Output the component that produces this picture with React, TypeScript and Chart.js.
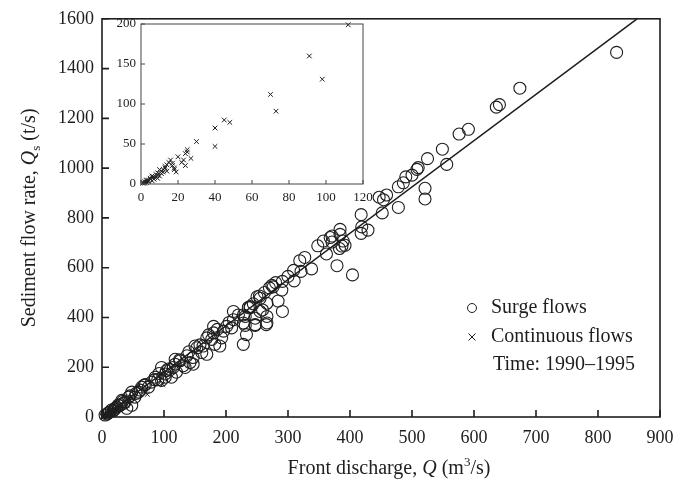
import React, { useEffect, useRef } from 'react';
import { Chart, registerables } from 'chart.js';

Chart.register(...registerables);

// ---- Data ----
const surgeQ = [
  5, 10, 15, 21, 26, 32, 37, 40, 43, 48, 48, 53, 59, 64, 75, 80, 86, 96, 102, 107, 118, 126, 134, 147, 150,
  96, 102, 104, 112, 115, 118, 120, 131, 137, 142, 147, 153, 161, 163, 169, 169, 177, 180, 180, 182, 190, 193, 196,
  201, 209, 212, 212, 228, 228, 231, 233, 239, 247, 255, 266, 266, 228, 231, 247, 247, 259, 265, 266, 239, 250, 254,
  255, 270, 276, 274, 290, 291, 284, 291, 309, 310, 321, 319, 327, 338, 348, 357, 362, 368, 371, 371, 379, 383, 384,
  384, 387, 389, 392, 404, 418, 419, 429, 418, 447, 452, 454, 459, 478, 478, 486, 490, 500, 508, 510, 521, 521, 525,
  549, 556, 576, 591, 636, 641, 674, 830, 20, 28, 35, 55, 70, 90, 110, 12, 8, 30,
  18, 24, 33, 45, 62, 68, 85, 92, 125, 140, 158, 172, 186, 205, 220, 236, 244, 262, 280, 300
];
const surgeQs = [
  8, 16, 28, 35, 48, 67, 60, 35, 80, 100, 47, 80, 100, 120, 120, 140, 160, 147, 173, 193, 212, 226, 199, 212, 285,
  199, 160, 186, 160, 199, 232, 180, 206, 246, 219, 239, 278, 259, 285, 318, 252, 312, 364, 338, 292, 285, 318, 345,
  364, 358, 424, 391, 292, 378, 404, 331, 444, 371, 424, 378, 457, 410, 368, 397, 368, 430, 371, 404, 440, 483, 486,
  477, 519, 523, 529, 510, 545, 466, 424, 589, 547, 585, 628, 641, 595, 688, 707, 655, 721, 727, 703, 608, 677, 754,
  734, 687, 707, 690, 571, 813, 764, 751, 738, 883, 820, 873, 892, 925, 842, 941, 965, 972, 995, 1002, 919, 876, 1038,
  1076, 1015, 1137, 1156, 1245, 1255, 1321, 1465, 30, 45, 55, 95, 130, 150, 190, 20, 12, 50,
  25, 40, 62, 85, 108, 128, 150, 175, 230, 262, 290, 330, 352, 380, 410, 440, 455, 500, 540, 565
];

const contQ = [
  112, 91, 98, 70, 73, 45, 48, 40, 40, 30, 25, 24, 20, 27, 23, 24, 19, 17, 15, 16, 14, 18, 12, 10, 11, 9, 9, 8, 7,
  6, 5, 6, 4, 3, 2, 3, 1, 1, 2, 4, 5, 7, 8, 10, 12, 13, 14, 17, 18, 22, 25, 11, 13, 6, 9, 3
];
const contQs = [
  199, 160, 131, 112, 91, 80, 77, 70, 47, 53, 43, 38, 34, 32, 30, 23, 15, 23, 27, 30, 24, 18, 18, 18, 13, 14, 11, 9, 9,
  8, 6, 4, 5, 4, 3, 2, 2, 1, 1, 3, 7, 6, 12, 10, 15, 20, 16, 26, 20, 27, 40, 16, 22, 10, 7, 5
];

const fitQ = [3, 863];
const fitQs = [0, 1600];

const mainXTicks = [0, 100, 200, 300, 400, 500, 600, 700, 800, 900];
const mainYTicks = [0, 200, 400, 600, 800, 1000, 1200, 1400, 1600];
const insetXTicks = [0, 20, 40, 60, 80, 100, 120];
const insetYTicks = [0, 50, 100, 150, 200];

const legendLabels = ['Surge flows', 'Continuous flows', 'Time: 1990\u20131995'];

// ---- Helpers ----
const INK = '#1e1e1e';
const SERIF = '"Liberation Serif", "Times New Roman", serif';

const toPts = (xs: number[], ys: number[]) => xs.map((x, i) => ({ x, y: ys[i] }));
const plainLabel = (v: any) => String(v);

type Part = { text: string; italic?: boolean; script?: 'sub' | 'sup' };

function drawRich(ctx: CanvasRenderingContext2D, parts: Part[], cx: number, y: number, size: number) {
  const fontFor = (p: Part) => `${p.italic ? 'italic ' : ''}${p.script ? Math.round(size * 0.65) : size}px ${SERIF}`;
  let total = 0;
  const widths = parts.map((p) => {
    ctx.font = fontFor(p);
    const w = ctx.measureText(p.text).width;
    total += w;
    return w;
  });
  let x = cx - total / 2;
  ctx.textBaseline = 'alphabetic';
  ctx.textAlign = 'left';
  parts.forEach((p, i) => {
    ctx.font = fontFor(p);
    const dy = p.script === 'sub' ? 5 : p.script === 'sup' ? -8 : 0;
    ctx.fillText(p.text, x, y + dy);
    x += widths[i];
  });
}

function framePlugin(id: string, tickLen: number, lineW: number, color: string) {
  return {
    id,
    afterDraw(chart: any) {
      const { ctx, chartArea: a, scales } = chart;
      ctx.save();
      ctx.strokeStyle = color;
      ctx.lineWidth = lineW;
      ctx.strokeRect(a.left, a.top, a.right - a.left, a.bottom - a.top);
      ctx.beginPath();
      scales.x.ticks.forEach((t: any) => {
        const px = scales.x.getPixelForValue(t.value);
        ctx.moveTo(px, a.bottom);
        ctx.lineTo(px, a.bottom - tickLen);
      });
      scales.y.ticks.forEach((t: any) => {
        const py = scales.y.getPixelForValue(t.value);
        ctx.moveTo(a.left, py);
        ctx.lineTo(a.left + tickLen, py);
      });
      ctx.stroke();
      ctx.restore();
    },
  };
}

const mainDecor = {
  id: 'mainDecor',
  afterDraw(chart: any) {
    const { ctx, chartArea: a } = chart;
    ctx.save();
    ctx.fillStyle = INK;
    // X title
    drawRich(
      ctx,
      [
        { text: 'Front discharge, ' },
        { text: 'Q', italic: true },
        { text: ' (m' },
        { text: '3', script: 'sup' },
        { text: '/s)' },
      ],
      389,
      474,
      20
    );
    // Y title
    ctx.save();
    ctx.translate(35, (a.top + a.bottom) / 2);
    ctx.rotate(-Math.PI / 2);
    drawRich(
      ctx,
      [
        { text: 'Sediment flow rate, ' },
        { text: 'Q', italic: true },
        { text: 's', script: 'sub' },
        { text: ' (t/s)' },
      ],
      0,
      0,
      20
    );
    ctx.restore();
    // Legend
    const mx = 472;
    const ys = [308, 337, 365];
    ctx.strokeStyle = INK;
    ctx.lineWidth = 1;
    ctx.beginPath();
    ctx.arc(mx, ys[0], 4.5, 0, Math.PI * 2);
    ctx.stroke();
    ctx.beginPath();
    ctx.moveTo(mx - 3.5, ys[1] - 3.5);
    ctx.lineTo(mx + 3.5, ys[1] + 3.5);
    ctx.moveTo(mx + 3.5, ys[1] - 3.5);
    ctx.lineTo(mx - 3.5, ys[1] + 3.5);
    ctx.stroke();
    ctx.font = `20px ${SERIF}`;
    ctx.textAlign = 'left';
    ctx.textBaseline = 'middle';
    ctx.fillText(legendLabels[0], 491, ys[0]);
    ctx.fillText(legendLabels[1], 491, ys[1]);
    ctx.fillText(legendLabels[2], 493, ys[2]);
    ctx.restore();
  },
};

export default function App() {
  const mainRef = useRef<HTMLCanvasElement | null>(null);
  const insetRef = useRef<HTMLCanvasElement | null>(null);

  useEffect(() => {
    if (!mainRef.current || !insetRef.current) return;

    const main = new Chart(mainRef.current, {
      type: 'scatter',
      data: {
        datasets: [
          {
            type: 'line',
            data: toPts(fitQ, fitQs),
            borderColor: INK,
            borderWidth: 1.5,
            pointRadius: 0,
            showLine: true,
            fill: false,
          } as any,
          {
            data: toPts(surgeQ, surgeQs),
            pointStyle: 'circle',
            pointRadius: 6,
            borderWidth: 1.1,
            borderColor: INK,
            backgroundColor: 'rgba(0,0,0,0)',
            clip: false,
          } as any,
          {
            data: toPts(contQ, contQs),
            pointStyle: 'crossRot',
            pointRadius: 3.5,
            borderWidth: 1,
            borderColor: INK,
            clip: false,
          } as any,
        ],
      },
      options: {
        animation: false,
        responsive: false,
        events: [],
        layout: { padding: { top: 13, right: 34, left: 0, bottom: 0 } },
        plugins: { legend: { display: false }, tooltip: { enabled: false } },
        scales: {
          x: {
            type: 'linear',
            min: 0,
            max: 900,
            afterBuildTicks: (s: any) => {
              s.ticks = mainXTicks.map((v) => ({ value: v }));
            },
            afterFit: (s: any) => {
              s.height = 73;
            },
            grid: { display: false, drawTicks: false },
            border: { display: false },
            ticks: { padding: 10, color: INK, font: { family: SERIF, size: 18 }, maxRotation: 0, callback: plainLabel },
          },
          y: {
            type: 'linear',
            min: 0,
            max: 1600,
            afterBuildTicks: (s: any) => {
              s.ticks = mainYTicks.map((v) => ({ value: v }));
            },
            afterFit: (s: any) => {
              s.width = 102;
            },
            grid: { display: false, drawTicks: false },
            border: { display: false },
            ticks: { padding: 8, color: INK, font: { family: SERIF, size: 18 }, callback: plainLabel },
          },
        },
      },
      plugins: [framePlugin('mainFrame', 7, 1.6, INK), mainDecor],
    } as any);

    const inset = new Chart(insetRef.current, {
      type: 'scatter',
      data: {
        datasets: [
          {
            data: toPts(contQ, contQs),
            pointStyle: 'crossRot',
            pointRadius: 3.3,
            borderWidth: 1,
            borderColor: INK,
            clip: false,
          } as any,
        ],
      },
      options: {
        animation: false,
        responsive: false,
        events: [],
        layout: { padding: { top: 24, right: 331, left: 0, bottom: 0 } },
        plugins: { legend: { display: false }, tooltip: { enabled: false } },
        scales: {
          x: {
            type: 'linear',
            min: 0,
            max: 120,
            afterBuildTicks: (s: any) => {
              s.ticks = insetXTicks.map((v) => ({ value: v }));
            },
            afterFit: (s: any) => {
              s.height = 306;
            },
            grid: { display: false, drawTicks: false },
            border: { display: false },
            ticks: { padding: 6, color: INK, font: { family: SERIF, size: 13 }, maxRotation: 0, callback: plainLabel },
          },
          y: {
            type: 'linear',
            min: 0,
            max: 200,
            afterBuildTicks: (s: any) => {
              s.ticks = insetYTicks.map((v) => ({ value: v }));
            },
            afterFit: (s: any) => {
              s.width = 141;
            },
            grid: { display: false, drawTicks: false },
            border: { display: false },
            ticks: { padding: 5, color: INK, font: { family: SERIF, size: 13 }, callback: plainLabel },
          },
        },
      },
      plugins: [framePlugin('insetFrame', 4, 1, '#444')],
    } as any);

    return () => {
      main.destroy();
      inset.destroy();
    };
  }, []);

  const canvasStyle: React.CSSProperties = { position: 'absolute', left: 0, top: 0, width: 694, height: 490 };

  return (
    <div style={{ position: 'fixed', left: 0, top: 0, width: 694, height: 490, background: '#fff' }}>
      <canvas ref={mainRef} width={694} height={490} style={canvasStyle} />
      <canvas ref={insetRef} width={694} height={490} style={canvasStyle} />
    </div>
  );
}
